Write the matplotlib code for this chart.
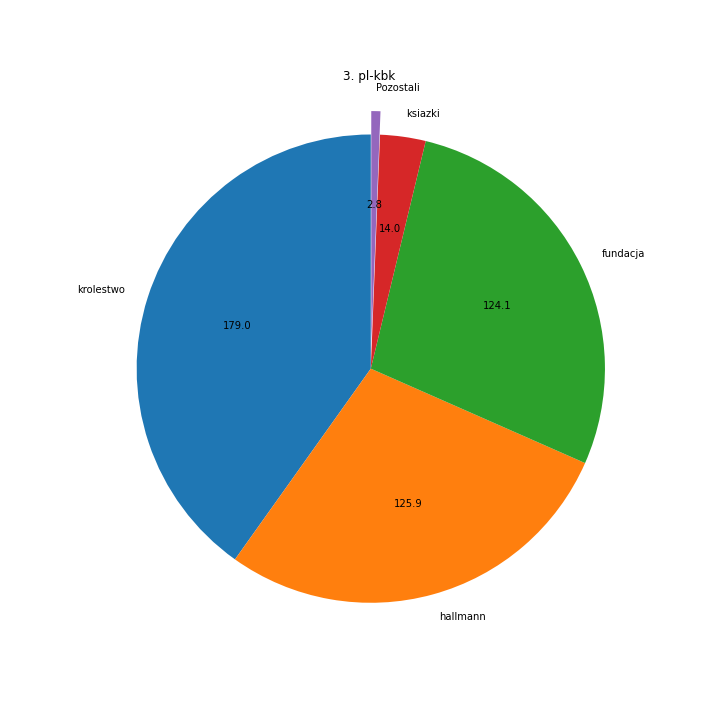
import matplotlib
matplotlib.use("Agg")
import matplotlib.pyplot as plt

labels = ["krolestwo", "hallmann", "fundacja", "ksiazki", "Pozostali"]
values = [179.0, 125.9, 124.1, 14.0, 2.8]
explode = [0, 0, 0, 0, 0.1]

total = sum(values)

fig, ax = plt.subplots(figsize=(10, 10), dpi=72)
ax.set_position([0.1085, 0.0815, 0.813, 0.813])
ax.pie(values, labels=labels, explode=explode, startangle=90,
       autopct=lambda p: '{:.1f}'.format(p * total / 100))
ax.set_title("3. pl-kbk", x=0.497, y=0.9925, pad=0)

plt.savefig("out.png")
